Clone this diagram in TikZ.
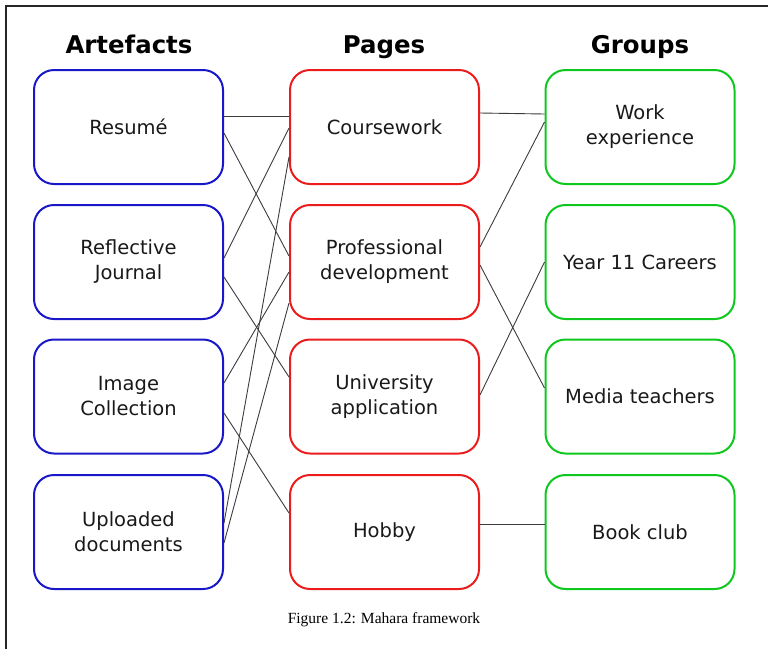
\documentclass[tikz,border=0pt]{standalone}
\usepackage{fontspec}
\setmainfont{DejaVu Sans}
\newfontfamily\capfont{Liberation Serif}
\definecolor{artblue}{RGB}{24,24,200}
\definecolor{pagered}{RGB}{236,28,28}
\definecolor{grpgreen}{RGB}{14,200,30}
\definecolor{conn}{RGB}{60,60,60}
\definecolor{txt}{RGB}{25,25,25}
\begin{document}
\begin{tikzpicture}[x=1pt,y=-1pt,
  boxbase/.style={draw, line width=2pt, rounded corners=20pt, minimum width=189pt, minimum height=114pt, inner sep=0pt, align=center, text=txt, font=\fontsize{19.5}{25}\selectfont},
  artbox/.style={boxbase, draw=artblue},
  pagebox/.style={boxbase, draw=pagered},
  grpbox/.style={boxbase, draw=grpgreen},
  header/.style={anchor=base, font=\bfseries\fontsize{24.4}{28}\selectfont, text=black},
  link/.style={draw=conn, line width=0.9pt}]
\useasboundingbox (0,0) rectangle (768,649);
% frame
\coordinate (fTL) at (6,6);
\coordinate (fTR) at (768,6);
\coordinate (fBL) at (6,649);
\draw[line width=1.2pt, black!85] (fBL) -- (fTL) -- (fTR);
% headers
\node[header] (hA) at (129,53) {Artefacts};
\node[header] (hP) at (384,53) {Pages};
\node[header] (hG) at (640,53) {Groups};
% artefacts
\node[artbox] (A1) at (128.5,127) {Resumé};
\node[artbox] (A2) at (128.5,262) {Reflective\\Journal};
\node[artbox] (A3) at (128.5,396.5) {Image\\Collection};
\node[artbox] (A4) at (128.5,532) {Uploaded\\documents};
% pages
\node[pagebox] (P1) at (384.5,127) {Coursework};
\node[pagebox] (P2) at (384.5,262) {Professional\\development};
\node[pagebox] (P3) at (384.5,396.5) {University\\application};
\node[pagebox] (P4) at (384.5,532) {Hobby};
% groups
\node[grpbox] (G1) at (640,127) {Work\\experience};
\node[grpbox] (G2) at (640,262) {Year 11 Careers};
\node[grpbox] (G3) at (640,396.5) {Media teachers};
\node[grpbox] (G4) at (640,532) {Book club};
% artefacts -- pages
\draw[link] ([yshift=11pt]A1.east) -- ([yshift=11pt]P1.west);
\draw[link] ([yshift=-6pt]A1.east) -- ([yshift=6pt]P2.west);
\draw[link] ([yshift=-1pt]P1.west) -- ([yshift=4pt]A2.east);
\draw[link] ([yshift=-15pt]A2.east) -- ([yshift=19.5pt]P3.west);
\draw[link] ([yshift=-10pt]P2.west) -- ([yshift=13.5pt]A3.east);
\draw[link] ([yshift=-16.5pt]A3.east) -- ([yshift=19pt]P4.west);
\draw[link] ([yshift=-30pt]P1.west) -- ([yshift=9pt]A4.east);
\draw[link] ([yshift=-41pt]P2.west) -- ([yshift=-11pt]A4.east);
% pages -- groups
\draw[link] ([yshift=14pt]P1.east) -- ([yshift=13pt]G1.west);
\draw[link] ([yshift=5pt]G1.west) -- ([yshift=15pt]P2.east);
\draw[link] ([yshift=-3pt]P2.east) -- ([yshift=8.5pt]G3.west);
\draw[link] (G2.west) -- ([yshift=1.5pt]P3.east);
\draw[link] ([yshift=8pt]P4.east) -- ([yshift=8pt]G4.west);
% caption
\node[anchor=base, font=\capfont\fontsize{15.5}{18}\selectfont, text=black] (cap) at (384,623) {Figure 1.2: Mahara framework};
\end{tikzpicture}
\end{document}
